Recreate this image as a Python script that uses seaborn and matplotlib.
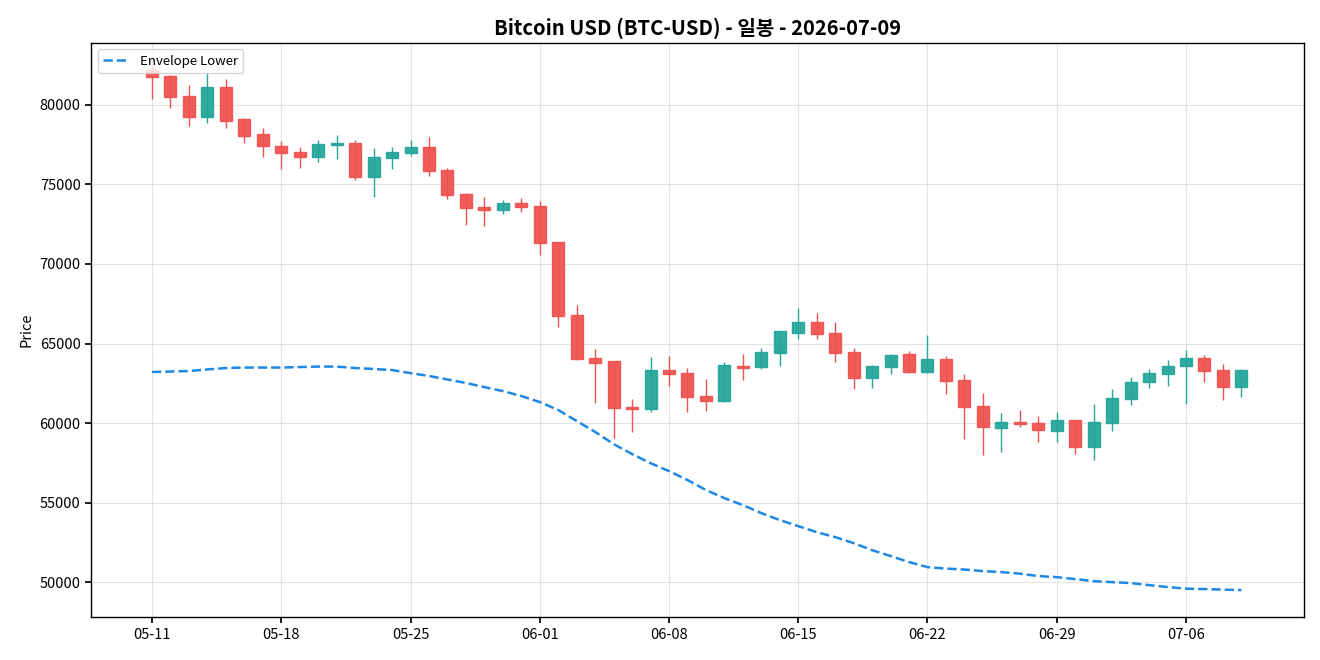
import numpy as np
import pandas as pd
import matplotlib
matplotlib.use("Agg")
import matplotlib.pyplot as plt
import seaborn as sns

dates = pd.date_range("2026-05-11", "2026-07-09", freq="D")

opens = [82200, 81820, 80570, 79265, 81110, 79100, 78160, 77440, 77020, 76710,
         77470, 77590, 75450, 76650, 76960, 77340, 75890, 74380, 73570, 73380,
         73820, 73650, 71370, 66770, 64070, 63880, 60990, 60860, 63320, 63130,
         61680, 61400, 63570, 63500, 64380, 65680, 66330, 65640, 64450, 62850,
         63500, 64320, 63230, 64010, 62690, 61050, 59670, 60050, 59980, 59480,
         60170, 58510, 59980, 61490, 62560, 63070, 63570, 64070, 63320, 62250]
highs = [82600, 81900, 81260, 82000, 81640, 79200, 78530, 77740, 77360, 77800,
         78110, 77800, 77300, 77360, 77800, 77990, 76020, 74480, 74210, 74020,
         74150, 73960, 71370, 67420, 64650, 63880, 61490, 64170, 64230, 63480,
         62770, 63840, 64340, 64720, 65770, 67230, 66920, 66350, 64720, 63620,
         64360, 64530, 65550, 64220, 63080, 61890, 60630, 60820, 60420, 60670,
         60200, 61200, 62140, 62890, 63400, 63960, 64590, 64280, 63710, 63380]
lows = [80380, 79830, 78700, 78890, 78570, 77590, 76750, 75990, 76060, 76430,
        76600, 75300, 74230, 75990, 76810, 75560, 74110, 72470, 72410, 73120,
        73270, 70570, 66060, 63960, 61280, 59080, 59430, 60710, 62350, 60710,
        60770, 61350, 62700, 63400, 63580, 65300, 65290, 63860, 62140, 62220,
        63100, 63160, 63160, 61850, 59010, 58010, 58200, 59770, 58820, 58820,
        58070, 57690, 59520, 61150, 62220, 62350, 61210, 62600, 61470, 61650]
closes = [81740, 80480, 79265, 81110, 79010, 78070, 77400, 76960, 76710, 77530,
          77590, 75450, 76710, 77020, 77340, 75830, 74320, 73500, 73380, 73820,
          73580, 71300, 66710, 64000, 63760, 60930, 60860, 63320, 63070, 61620,
          61400, 63630, 63480, 64450, 65770, 66330, 65580, 64380, 62850, 63570,
          64260, 63230, 64010, 62620, 60990, 59730, 60050, 59920, 59540, 60170,
          58510, 60050, 61550, 62560, 63130, 63570, 64070, 63260, 62250, 63320]
env_lower = [63210, 63240, 63270, 63370, 63460, 63490, 63490, 63490, 63520, 63550,
             63550, 63460, 63400, 63330, 63140, 62960, 62740, 62520, 62260, 62010,
             61700, 61320, 60820, 60130, 59440, 58680, 58050, 57480, 56980, 56420,
             55790, 55280, 54840, 54340, 53900, 53520, 53140, 52830, 52450, 52010,
             51640, 51260, 50940, 50850, 50790, 50690, 50630, 50530, 50380, 50310,
             50190, 50060, 50000, 49940, 49810, 49690, 49590, 49560, 49530, 49500]

df = pd.DataFrame({"date": dates, "open": opens, "high": highs,
                   "low": lows, "close": closes, "env_lower": env_lower})
df["idx"] = np.arange(len(df))

sns.set_theme(style="whitegrid")
plt.rcParams['font.family'] = ['Noto Sans CJK KR', 'DejaVu Sans']
plt.rcParams['axes.unicode_minus'] = False
for k in ["text.color", "axes.labelcolor", "xtick.color", "ytick.color"]:
    plt.rcParams[k] = "black"

fig = plt.figure(figsize=(13.2, 6.6), dpi=100)
ax = fig.add_axes([0.069, 0.065, 0.919, 0.870])

up_c = "#26A69A"
dn_c = "#EF5350"
up = df["close"] >= df["open"]
colors = np.where(up, up_c, dn_c)

ax.vlines(df["idx"], df["low"], df["high"], colors=colors, linewidth=1.0, zorder=2)
body_bottom = np.minimum(df["open"], df["close"])
body_h = np.abs(df["close"] - df["open"])
body_h = np.maximum(body_h, 60)
ax.bar(df["idx"], body_h, bottom=body_bottom, width=0.65, color=colors,
       edgecolor=colors, linewidth=1.0, alpha=0.95, zorder=3)

sns.lineplot(data=df, x="idx", y="env_lower", ax=ax, color="#1E88E5",
             linestyle="--", linewidth=1.8, label="Envelope Lower", zorder=4)

ax.set_xlim(-3.3, 62.4)
ax.set_ylim(47800, 83900)
tick_idx = list(range(0, 60, 7))
ax.set_xticks(tick_idx)
ax.set_xticklabels([df["date"][i].strftime("%m-%d") for i in tick_idx], fontsize=10.5)
ax.tick_params(axis="y", labelsize=10.5)
ax.tick_params(axis="both", which="both", length=4, color="black", bottom=True, left=True)
ax.set_xlabel("")
ax.set_ylabel("Price", fontsize=10.5)
ax.set_title("Bitcoin USD (BTC-USD) - 일봉 - 2026-07-09", fontsize=14.5, fontweight="bold")

ax.set_facecolor("white")
ax.grid(True, color="#DDDDDD", linewidth=0.8, alpha=0.8)
for s in ax.spines.values():
    s.set_edgecolor("black")
    s.set_linewidth(1.0)

leg = ax.legend(loc="upper left", fontsize=9.5, frameon=True)
leg.get_frame().set_edgecolor("#CCCCCC")

fig.savefig("out.png", dpi=100)
